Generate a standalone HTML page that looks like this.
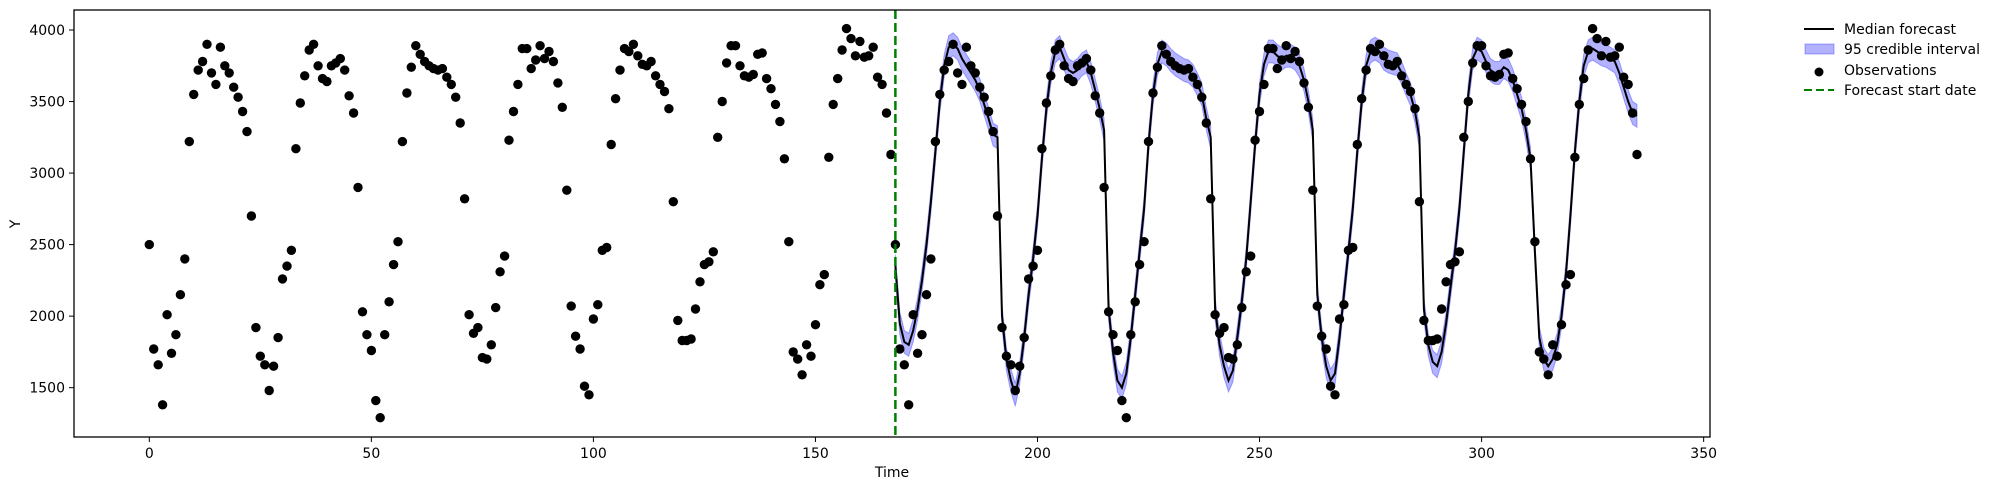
<!DOCTYPE html>
<html><head><meta charset="utf-8"><style>
body{margin:0;background:#fff;}
svg{display:block;font-family:"DejaVu Sans","Liberation Sans",sans-serif;}
</style></head><body>
<svg id="chart" width="1994" height="490" viewBox="0 0 1994 490" xmlns="http://www.w3.org/2000/svg">
<g id="plot"></g>
<rect x="74" y="10" width="1636" height="427" fill="none" stroke="#000" stroke-width="1.3"/>
<g id="xticks"></g>
<g id="yticks"></g>
<text x="892" y="477" font-size="14" text-anchor="middle">Time</text>
<text x="20" y="224" font-size="14" text-anchor="middle" transform="rotate(-90 20 224)">Y</text>
<g>
<g><line x1="1804" y1="29" x2="1834" y2="29" stroke="#000" stroke-width="2"/><text x="1844" y="34" font-size="14">Median forecast</text></g>
<g><rect x="1805" y="44" width="29" height="10" fill="#0000ff" fill-opacity="0.3" stroke="#0000ff" stroke-opacity="0.3"/><text x="1844" y="54" font-size="14">95 credible interval</text></g>
<g><circle cx="1819" cy="72" r="4.5" fill="#000"/><text x="1844" y="75" font-size="14">Observations</text></g>
<g><line x1="1804" y1="90" x2="1834" y2="90" stroke="#008000" stroke-width="2" stroke-dasharray="8,4"/><text x="1844" y="95" font-size="14">Forecast start date</text></g>
</g>
</svg>
<script>
const obsFirst=[2500,1770,1660,1380,2010,1740,1870,2150,2400,3220,3550,3720,3780,3900,3700,3620,3880,3750,3700,3600,3530,3430,3290,2700,
1920,1720,1660,1480,1650,1850,2260,2350,2460,3170,3490,3680,3860,3900,3750,3660,3640,3750,3770,3800,3720,3540,3420,2900,
2030,1870,1760,1410,1290,1870,2100,2360,2520,3220,3560,3740,3890,3830,3780,3750,3730,3720,3730,3670,3620,3530,3350,2820,
2010,1880,1920,1710,1700,1800,2060,2310,2420,3230,3430,3620,3870,3870,3730,3790,3890,3800,3850,3780,3630,3460,2880,
2070,1860,1770,1510,1450,1980,2080,2460,2480,3200,3520,3720,3870,3850,3900,3820,3760,3750,3780,3680,3620,3570,3450,2800,
1970,1830,1830,1840,2050,2240,2360,2380,2450,3250,3500,3770,3890,3890,3750,3680,3670,3690,3830,3840,3660,3590,3480,3360,3100,
2520,1750,1700,1590,1800,1720,1940,2220,2290,3110,3480,3660,3860,4010,3940,3820,3920,3810,3820,3880,3670,3620,3420,3130];
const obsSecond=[2500,1770,1660,1380,2010,1740,1870,2150,2400,3220,3550,3720,3780,3900,3700,3620,3880,3750,3700,3600,3530,3430,3290,2700,
1920,1720,1660,1480,1650,1850,2260,2350,2460,3170,3490,3680,3860,3900,3750,3660,3640,3750,3770,3800,3720,3540,3420,2900,
2030,1870,1760,1410,1290,1870,2100,2360,2520,3220,3560,3740,3890,3830,3780,3750,3730,3720,3730,3670,3620,3530,3350,2820,
2010,1880,1920,1710,1700,1800,2060,2310,2420,3230,3430,3620,3870,3870,3730,3790,3890,3800,3850,3780,3630,3460,2880,
2070,1860,1770,1510,1450,1980,2080,2460,2480,3200,3520,3720,3870,3850,3900,3820,3760,3750,3780,3680,3620,3570,3450,2800,
1970,1830,1830,1840,2050,2240,2360,2380,2450,3250,3500,3770,3890,3890,3750,3680,3670,3690,3830,3840,3660,3590,3480,3360,3100,
2520,1750,1700,1590,1800,1720,1940,2220,2290,3110,3480,3660,3860,4010,3940,3820,3920,3810,3820,3880,3670,3620,3420,3130];
const forecastStart=168;
const median=[2350,1950,1820,1800,1900,2050,2250,2500,2800,3150,3500,3750,3880,3900,3870,3800,3750,3700,3650,3580,3480,3380,3270,3250,
2000,1700,1550,1450,1600,1850,2150,2400,2700,3100,3450,3700,3850,3880,3800,3720,3700,3720,3760,3780,3700,3580,3450,3300,
2050,1750,1550,1500,1600,1850,2150,2450,2750,3200,3550,3760,3850,3830,3790,3760,3740,3720,3710,3680,3620,3550,3380,3250,
2050,1800,1650,1550,1620,1850,2100,2400,2800,3200,3550,3760,3850,3850,3820,3800,3820,3820,3800,3750,3650,3500,3300,
2150,1850,1650,1550,1600,1850,2150,2450,2750,3150,3500,3750,3850,3870,3850,3800,3780,3770,3760,3700,3620,3550,3430,3250,
2050,1800,1680,1650,1750,1950,2200,2450,2750,3150,3550,3800,3870,3850,3780,3720,3700,3700,3740,3720,3650,3550,3450,3300,3100,
2450,1850,1700,1650,1700,1800,2000,2300,2700,3150,3500,3750,3850,3870,3850,3830,3820,3800,3780,3700,3600,3500,3420,3400];
const ciHalfWidth=[80];
const xTicks=[0,50,100,150,200,250,300,350];
const yTicks=[1500,2000,2500,3000,3500,4000];

const NS='http://www.w3.org/2000/svg';
const X=v=>149.3+(v)*4.441;
const Y=v=>30+(4000-v)*0.14307;
function mk(tag,attrs,parent){const e=document.createElementNS(NS,tag);for(const k in attrs)e.setAttribute(k,attrs[k]);parent.appendChild(e);return e;}
const plot=document.getElementById('plot');
const hw=ciHalfWidth[0];
let up='',lo='';
median.forEach((m,i)=>{const t=forecastStart+i;up+=(i?'L':'M')+X(t).toFixed(1)+','+Y(m+hw).toFixed(1);});
for(let i=median.length-1;i>=0;i--){const t=forecastStart+i;lo+='L'+X(t).toFixed(1)+','+Y(median[i]-hw).toFixed(1);}
const band=mk('path',{d:up+lo+'Z',fill:'#0000ff','fill-opacity':0.3,stroke:'#0000ff','stroke-opacity':0.3},plot);


let md='';
median.forEach((m,i)=>{md+=(i?'L':'M')+X(forecastStart+i).toFixed(1)+','+Y(m).toFixed(1);});
const ml=mk('path',{d:md,fill:'none',stroke:'#000','stroke-width':2},plot);


const obs=obsFirst.concat(obsSecond);
obs.forEach((v,t)=>{const c=mk('circle',{cx:X(t).toFixed(1),cy:Y(v).toFixed(1),r:4.7,fill:'#000'},plot);

});
const vl=mk('line',{x1:X(forecastStart),x2:X(forecastStart),y1:10,y2:437,stroke:'#008000','stroke-width':2.5,'stroke-dasharray':'9,4'},plot);


const xg=document.getElementById('xticks');
xTicks.forEach(v=>{const g=mk('g',{},xg);


mk('line',{x1:X(v),x2:X(v),y1:437,y2:442,stroke:'#000'},g);
const t=mk('text',{x:X(v),y:458,'font-size':14,'text-anchor':'middle'},g);t.textContent=v;});
const yg=document.getElementById('yticks');
yTicks.forEach(v=>{const g=mk('g',{},yg);


mk('line',{x1:69,x2:74,y1:Y(v),y2:Y(v),stroke:'#000'},g);
const t=mk('text',{x:65,y:Y(v)+5,'font-size':14,'text-anchor':'end'},g);t.textContent=v;});
</script>
</body></html>
